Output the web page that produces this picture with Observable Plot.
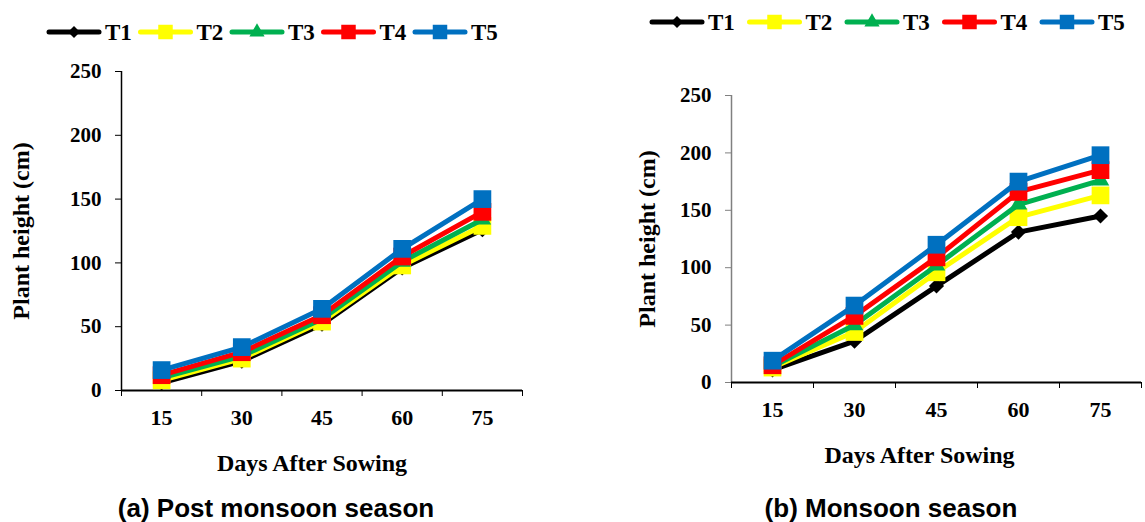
<!DOCTYPE html>
<html><head><meta charset="utf-8">
<script src="https://cdn.jsdelivr.net/npm/d3@7"></script>
<script src="https://cdn.jsdelivr.net/npm/@observablehq/plot@0.6"></script>
<style>
html,body{margin:0;padding:0;background:#fff;}
body{width:1145px;height:522px;overflow:hidden;position:relative;font-family:"Liberation Serif","Times New Roman",serif;}
.abs{position:absolute;}
.cap{font-family:"Liberation Sans",Arial,sans-serif;font-weight:bold;font-size:26px;line-height:26px;text-align:center;color:#000;white-space:nowrap;}
</style></head><body>
<script>
// ---- data ----
const days = [15, 30, 45, 60, 75];
const seriesNames = ["T1", "T2", "T3", "T4", "T5"];
const seriesColors = ["#000000", "#FFFF00", "#00B050", "#FF0000", "#0070C0"];
const seriesSymbols = ["diamond2", "square", "triangle", "square", "square"];
const yTicks = [0, 50, 100, 150, 200, 250];

// (a) Post monsoon season
const postT1 = [6, 23, 52, 96, 126];
const postT2 = [8, 25, 54, 98, 129];
const postT3 = [10, 27, 56, 101, 134];
const postT4 = [12, 30, 59, 105, 140];
const postT5 = [16, 34, 64, 111, 150];

// (b) Monsoon season
const monT1 = [11, 36, 84, 131, 145];
const monT2 = [13, 44, 96, 144, 163];
const monT3 = [14, 50, 102, 155, 176];
const monT4 = [15, 58, 109, 166, 185];
const monT5 = [19, 67, 120, 175, 198];

const xLabel = "Days After Sowing";
const yLabel = "Plant height (cm)";
const captionA = "(a) Post monsoon season";
const captionB = "(b) Monsoon season";

const step = days[1] - days[0];
const bounds = [days[0] - step / 2, ...days.map(d => d + step / 2)];
const symR = {diamond2: 6.8, square: 10, triangle: 6.5};
const serif = "'Liberation Serif','Times New Roman',serif";

function chart(seriesVals, o) {
  const marks = [];
  marks.push(Plot.axisY(yTicks, {tickSize: 6, tickPadding: o.yPad, label: null, stroke: o.yColor, fontSize: 21, fontWeight: "bold", fontFamily: serif}));
  marks.push(Plot.axisX(bounds, {tickSize: 6, tickFormat: () => "", label: null}));
  marks.push(Plot.axisX(days, {tickSize: 0, tickPadding: o.xPad, label: null, fontSize: 22, fontWeight: "bold", fontFamily: serif}));
  marks.push(Plot.ruleX([bounds[0]], {y1: 0, y2: 250, stroke: o.yColor, strokeWidth: 1.5}));
  marks.push(Plot.ruleY([0], {stroke: "#000", strokeWidth: 2}));
  marks.push(Plot.text([xLabel], {frameAnchor: "bottom", dy: o.xLabDy, dx: o.xLabDx, lineAnchor: "middle", fontSize: 24, fontWeight: "bold", fontFamily: serif, textAnchor: "middle"}));
  marks.push(Plot.text([yLabel], {frameAnchor: "left", dx: o.yLabDx, rotate: -90, lineAnchor: "middle", fontSize: 24, fontWeight: "bold", fontFamily: serif, textAnchor: "middle"}));
  seriesVals.forEach((vals, i) => {
    const rows = days.map((d, j) => ({day: d, h: vals[j]}));
    marks.push(Plot.line(rows, {x: "day", y: "h", stroke: seriesColors[i], strokeWidth: 5, strokeLinejoin: "round"}));
    marks.push(Plot.dot(rows, {x: "day", y: "h", symbol: seriesSymbols[i], r: symR[seriesSymbols[i]], fill: seriesColors[i], stroke: "none"}));
  });
  const svg = Plot.plot({
    width: o.width, height: o.height,
    marginLeft: o.ml, marginRight: o.mr, marginTop: o.mt, marginBottom: o.height - o.y0,
    x: {type: "linear", domain: [bounds[0], bounds[bounds.length - 1]]},
    y: {domain: [0, 250]},
    style: {fontFamily: serif, fontSize: "20px", fontWeight: "bold", color: "#000", background: "transparent", overflow: "visible"},
    marks
  });
  svg.style.position = "absolute";
  svg.style.left = o.left + "px";
  svg.style.top = "0px";
  document.body.appendChild(svg);
}

function legend(left, top, startX, gap, labelOff) {
  const w = 545, h = 30;
  const svg = d3.create("svg").attr("width", w).attr("height", h)
    .style("position", "absolute").style("left", left + "px").style("top", (top - h / 2) + "px").style("overflow", "visible");
  seriesNames.forEach((name, i) => {
    const x0 = startX + gap * i;
    const g = svg.append("g").attr("transform", `translate(${x0},${h / 2})`);
    g.append("line").attr("x1", 2).attr("x2", 52).attr("stroke", seriesColors[i]).attr("stroke-width", 5).attr("stroke-linecap", "round");
    const size = seriesSymbols[i] === "square" ? 210 : seriesSymbols[i] === "diamond2" ? 90 : 100;
    const sym = seriesSymbols[i] === "square" ? d3.symbolSquare : seriesSymbols[i] === "diamond2" ? d3.symbolDiamond2 : d3.symbolTriangle;
    g.append("path").attr("transform", "translate(27,0)").attr("d", d3.symbol(sym, size)()).attr("fill", seriesColors[i]);
    g.append("text").attr("x", labelOff).attr("y", 0).attr("dy", "0.35em")
      .attr("font-family", serif).attr("font-weight", "bold").attr("font-size", 23)
      .text(name);
  });
  document.body.appendChild(svg.node());
}

function caption(text, centerX, top) {
  const d = document.createElement("div");
  d.className = "abs cap";
  d.style.left = (centerX - 250) + "px"; d.style.width = "500px"; d.style.top = top + "px";
  d.textContent = text;
  document.body.appendChild(d);
}

chart([postT1, postT2, postT3, postT4, postT5],
  {left: 0, width: 560, height: 480, ml: 121, mr: 38, mt: 71, y0: 390, yPad: 14, xPad: 19, xLabDy: 73, xLabDx: -10, yLabDx: -100, yColor: "#000"});
chart([monT1, monT2, monT3, monT4, monT5],
  {left: 600, width: 545, height: 472, ml: 131, mr: 4, mt: 95, y0: 382, yPad: 14, xPad: 19, xLabDy: 73, xLabDx: -17, yLabDx: -84, yColor: "#808080"});

legend(0, 32, 47, 91.5, 58);
legend(600, 22, 50, 97.5, 58);

caption(captionA, 276, 495);
caption(captionB, 891, 495);
</script>
</body></html>
